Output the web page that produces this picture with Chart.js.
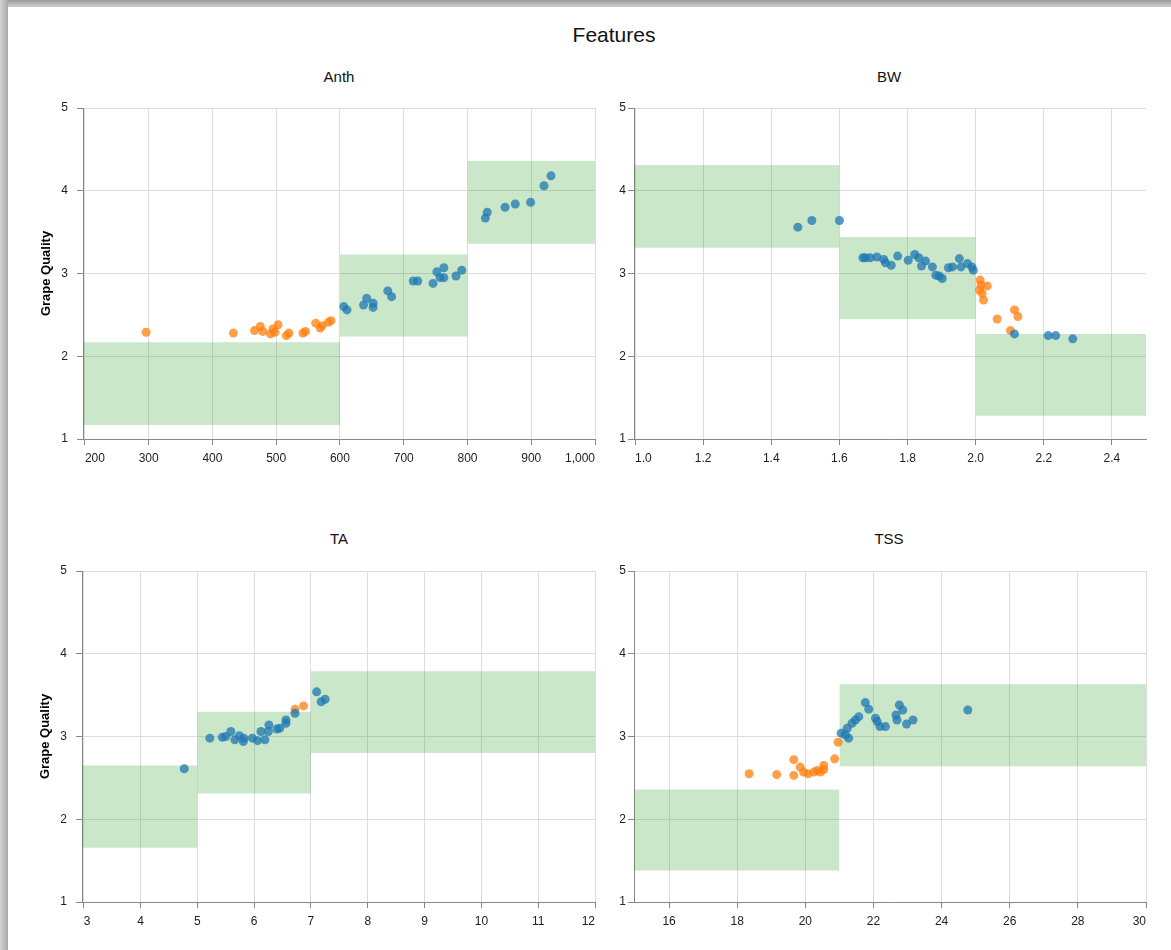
<!DOCTYPE html>
<html>
<head>
<meta charset="utf-8">
<title>Features</title>
<script src="https://cdn.jsdelivr.net/npm/chart.js@4.4.1/dist/chart.umd.min.js"></script>
<style>
  html, body { margin: 0; padding: 0; background: #fff; }
  body { width: 1171px; height: 950px; position: relative; overflow: hidden;
         font-family: "Liberation Sans", Arial, sans-serif; }
  .edge-top { position: absolute; left: 0; top: 0; width: 1171px; height: 7px;
              background: linear-gradient(to bottom, #9c9c9c, #cfcfcf); }
  .edge-left { position: absolute; left: 0; top: 0; width: 8px; height: 950px;
               background: linear-gradient(to right, #d4d4d4, #a9a9a9); }
  .title { position: absolute; transform: translate(-50%, -50%); color: #000; white-space: nowrap; }
  .main { font-size: 21px; color: #111; }
  .sub { font-size: 15px; color: #111; }
  canvas { position: absolute; }
</style>
</head>
<body>
<div class="edge-top"></div>
<div class="edge-left"></div>
<div class="title main" style="left:614px; top:35px;">Features</div>
<div class="title sub" style="left:339px; top:76px;">Anth</div>
<div class="title sub" style="left:889px; top:76px;">BW</div>
<div class="title sub" style="left:339px; top:538px;">TA</div>
<div class="title sub" style="left:889px; top:538px;">TSS</div>
<canvas id="anth"></canvas>
<canvas id="bw"></canvas>
<canvas id="ta"></canvas>
<canvas id="tss"></canvas>
<script>
// ---- shared quality axis ----
const qualityTicks = [1, 2, 3, 4, 5];

// ---- Anth ----
const anthTicks = [200, 300, 400, 500, 600, 700, 800, 900, 1000];
const anthTickLabels = ['200', '300', '400', '500', '600', '700', '800', '900', '1,000'];
const anthRange = [197, 1000];
const anthBinEdges = [197, 600, 800, 1000];
const anthBinLow = [1.17, 2.24, 3.36];
const anthBinHigh = [2.17, 3.23, 4.36];
const anthOrangeX = [296, 433, 466, 475, 479, 491, 495, 498, 503, 516, 520, 542, 546, 562, 569, 572, 582, 586];
const anthOrangeY = [2.29, 2.28, 2.31, 2.36, 2.30, 2.27, 2.33, 2.29, 2.38, 2.25, 2.28, 2.28, 2.30, 2.40, 2.34, 2.37, 2.41, 2.43];
const anthBlueX = [606, 611, 637, 642, 652, 652, 675, 681, 715, 722, 746, 752, 757, 763, 763, 782, 791, 828, 831, 859, 875, 899, 920, 931];
const anthBlueY = [2.60, 2.56, 2.62, 2.70, 2.64, 2.59, 2.79, 2.72, 2.91, 2.91, 2.88, 3.02, 2.95, 2.95, 3.07, 2.97, 3.04, 3.67, 3.74, 3.80, 3.84, 3.86, 4.06, 4.18];

// ---- BW ----
const bwTicks = [1.0, 1.2, 1.4, 1.6, 1.8, 2.0, 2.2, 2.4];
const bwTickLabels = ['1.0', '1.2', '1.4', '1.6', '1.8', '2.0', '2.2', '2.4'];
const bwRange = [0.997, 2.5];
const bwBinEdges = [0.997, 1.6, 2.0, 2.5];
const bwBinLow = [3.31, 2.45, 1.28];
const bwBinHigh = [4.31, 3.44, 2.27];
const bwBlueX = [1.478, 1.519, 1.600, 1.669, 1.676, 1.690, 1.710, 1.730, 1.735, 1.752, 1.771, 1.802, 1.821, 1.833, 1.841, 1.853, 1.873, 1.883, 1.893, 1.902, 1.920, 1.932, 1.952, 1.957, 1.976, 1.989, 1.993, 2.114, 2.213, 2.235, 2.285];
const bwBlueY = [3.56, 3.64, 3.64, 3.19, 3.19, 3.19, 3.20, 3.17, 3.13, 3.10, 3.21, 3.16, 3.23, 3.19, 3.09, 3.15, 3.08, 2.98, 2.97, 2.94, 3.07, 3.08, 3.18, 3.08, 3.12, 3.08, 3.04, 2.27, 2.25, 2.25, 2.21];
const bwOrangeX = [2.013, 2.016, 2.034, 2.011, 2.019, 2.023, 2.063, 2.114, 2.124, 2.102];
const bwOrangeY = [2.92, 2.86, 2.85, 2.80, 2.76, 2.68, 2.45, 2.56, 2.48, 2.31];

// ---- TA ----
const taTicks = [3, 4, 5, 6, 7, 8, 9, 10, 11, 12];
const taTickLabels = ['3', '4', '5', '6', '7', '8', '9', '10', '11', '12'];
const taRange = [2.97, 12];
const taBinEdges = [2.97, 5, 7, 12];
const taBinLow = [1.655, 2.31, 2.80];
const taBinHigh = [2.65, 3.30, 3.79];
const taBlueX = [4.77, 5.22, 5.44, 5.50, 5.59, 5.66, 5.74, 5.81, 5.82, 5.97, 6.06, 6.12, 6.19, 6.25, 6.26, 6.40, 6.45, 6.56, 6.56, 6.72, 7.10, 7.18, 7.25];
const taBlueY = [2.61, 2.98, 2.99, 3.00, 3.06, 2.96, 3.01, 2.94, 2.98, 2.98, 2.95, 3.06, 2.96, 3.06, 3.14, 3.09, 3.10, 3.20, 3.16, 3.28, 3.54, 3.42, 3.45];
const taOrangeX = [6.72, 6.87];
const taOrangeY = [3.33, 3.37];

// ---- TSS ----
const tssTicks = [16, 18, 20, 22, 24, 26, 28, 30];
const tssTickLabels = ['16', '18', '20', '22', '24', '26', '28', '30'];
const tssRange = [14.97, 30];
const tssBinEdges = [14.97, 21, 30];
const tssBinLow = [1.38, 2.64];
const tssBinHigh = [2.36, 3.63];
const tssOrangeX = [18.35, 19.16, 19.66, 19.66, 19.85, 19.95, 20.08, 20.25, 20.35, 20.44, 20.54, 20.54, 20.86, 20.96];
const tssOrangeY = [2.55, 2.54, 2.72, 2.53, 2.63, 2.57, 2.55, 2.57, 2.59, 2.57, 2.65, 2.60, 2.73, 2.93];
const tssBlueX = [21.05, 21.18, 21.27, 21.23, 21.37, 21.47, 21.57, 21.76, 21.86, 22.06, 22.11, 22.19, 22.35, 22.66, 22.76, 22.86, 22.69, 22.97, 23.16, 24.77];
const tssBlueY = [3.04, 3.02, 2.98, 3.10, 3.16, 3.20, 3.24, 3.41, 3.33, 3.22, 3.18, 3.12, 3.12, 3.26, 3.38, 3.32, 3.20, 3.15, 3.20, 3.32];

// ---- styling ----
const BLUE = 'rgba(31, 119, 180, 0.75)';
const ORANGE = 'rgba(255, 127, 14, 0.75)';
const BAND = 'rgba(44, 160, 44, 0.25)';
const GRID = '#dddddd';
const AXIS = '#888888';
const FONT = '"Liberation Sans", Arial, sans-serif';

function zip(xs, ys) { return xs.map((x, i) => ({ x: x, y: ys[i] })); }

function bandDatasets(edges, lows, highs) {
  return lows.map((low, i) => ({
    type: 'line',
    data: [{ x: edges[i], y: highs[i] }, { x: edges[i + 1], y: highs[i] }],
    fill: { value: low },
    backgroundColor: BAND,
    borderColor: 'rgba(0,0,0,0)',
    borderWidth: 1,
    pointRadius: 0,
    showLine: true,
    order: 2
  }));
}

function pointDataset(xs, ys, color) {
  return {
    type: 'scatter',
    data: zip(xs, ys),
    backgroundColor: color,
    borderWidth: 0,
    pointRadius: 4.5,
    order: 1
  };
}

// Labels sitting on the ends of the x range are drawn flush with the plot edge.
const flushEdgeLabels = {
  id: 'flushEdgeLabels',
  beforeDraw(chart) {
    const s = chart.scales.x;
    const items = s.getLabelItems(chart.chartArea);
    items.forEach((item, i) => {
      const px = s.getPixelForValue(s.ticks[i].value);
      if (px - s.left < 4) item.options.textAlign = 'left';
      else if (s.right - px < 4) item.options.textAlign = 'right';
    });
  }
};

// Each panel: plot area box in page pixels + its data.
function panel(id, area, cfg) {
  const PAD_L = 58, PAD_T = 12, PAD_R = 30, PAD_B = 36;
  const cv = document.getElementById(id);
  const w = area.r - area.l + PAD_L + PAD_R;
  const h = area.b - area.t + PAD_T + PAD_B;
  cv.style.left = (area.l - PAD_L) + 'px';
  cv.style.top = (area.t - PAD_T) + 'px';
  cv.width = w; cv.height = h;
  cv.style.width = w + 'px'; cv.style.height = h + 'px';

  new Chart(cv, {
    type: 'scatter',
    plugins: [flushEdgeLabels],
    data: {
      datasets: [
        ...bandDatasets(cfg.edges, cfg.low, cfg.high),
        pointDataset(cfg.blueX, cfg.blueY, BLUE),
        pointDataset(cfg.orangeX, cfg.orangeY, ORANGE)
      ]
    },
    options: {
      responsive: false,
      animation: false,
      devicePixelRatio: 1,
      layout: { padding: { left: 0, top: PAD_T, right: PAD_R, bottom: 0 } },
      plugins: { legend: { display: false }, tooltip: { enabled: false }, title: { display: false } },
      scales: {
        x: {
          type: 'linear',
          min: cfg.range[0], max: cfg.range[1],
          afterBuildTicks: s => { s.ticks = cfg.ticks.map(v => ({ value: v })); },
          afterFit: s => { s.height = PAD_B; s.paddingLeft = 0; s.paddingRight = 0; },
          grid: { color: GRID, tickColor: AXIS, tickLength: 6, lineWidth: 1 },
          border: { color: AXIS, width: 1 },
          ticks: {
            autoSkip: false, maxRotation: 0, padding: 6,
            color: '#222', font: { family: FONT, size: 12 },
            callback: (v, i) => cfg.tickLabels[i]
          }
        },
        y: {
          type: 'linear',
          min: 1, max: 5,
          afterBuildTicks: s => { s.ticks = qualityTicks.map(v => ({ value: v })); },
          afterFit: s => { s.width = PAD_L; s.paddingTop = 0; s.paddingBottom = 0; },
          grid: { color: GRID, tickColor: AXIS, tickLength: 6, lineWidth: 1 },
          border: { color: AXIS, width: 1 },
          ticks: {
            padding: cfg.yLabelPad, color: '#222', font: { family: FONT, size: 12 },
            callback: v => String(v)
          },
          title: {
            display: cfg.showTitle, text: 'Grape Quality',
            color: '#000', font: { family: FONT, size: 13, weight: 'bold' },
            padding: { top: 14, bottom: 0 }
          }
        }
      }
    }
  });
}

panel('anth', { l: 83, t: 108, r: 595, b: 439 }, {
  ticks: anthTicks, tickLabels: anthTickLabels, range: anthRange,
  edges: anthBinEdges, low: anthBinLow, high: anthBinHigh,
  blueX: anthBlueX, blueY: anthBlueY, orangeX: anthOrangeX, orangeY: anthOrangeY,
  showTitle: true, yLabelPad: 9
});
panel('bw', { l: 634, t: 108, r: 1146, b: 439 }, {
  ticks: bwTicks, tickLabels: bwTickLabels, range: bwRange,
  edges: bwBinEdges, low: bwBinLow, high: bwBinHigh,
  blueX: bwBlueX, blueY: bwBlueY, orangeX: bwOrangeX, orangeY: bwOrangeY,
  showTitle: false, yLabelPad: 2
});
panel('ta', { l: 82, t: 571, r: 595, b: 902 }, {
  ticks: taTicks, tickLabels: taTickLabels, range: taRange,
  edges: taBinEdges, low: taBinLow, high: taBinHigh,
  blueX: taBlueX, blueY: taBlueY, orangeX: taOrangeX, orangeY: taOrangeY,
  showTitle: true, yLabelPad: 9
});
panel('tss', { l: 634, t: 571, r: 1146, b: 902 }, {
  ticks: tssTicks, tickLabels: tssTickLabels, range: tssRange,
  edges: tssBinEdges, low: tssBinLow, high: tssBinHigh,
  blueX: tssBlueX, blueY: tssBlueY, orangeX: tssOrangeX, orangeY: tssOrangeY,
  showTitle: false, yLabelPad: 2
});
</script>
</body>
</html>
